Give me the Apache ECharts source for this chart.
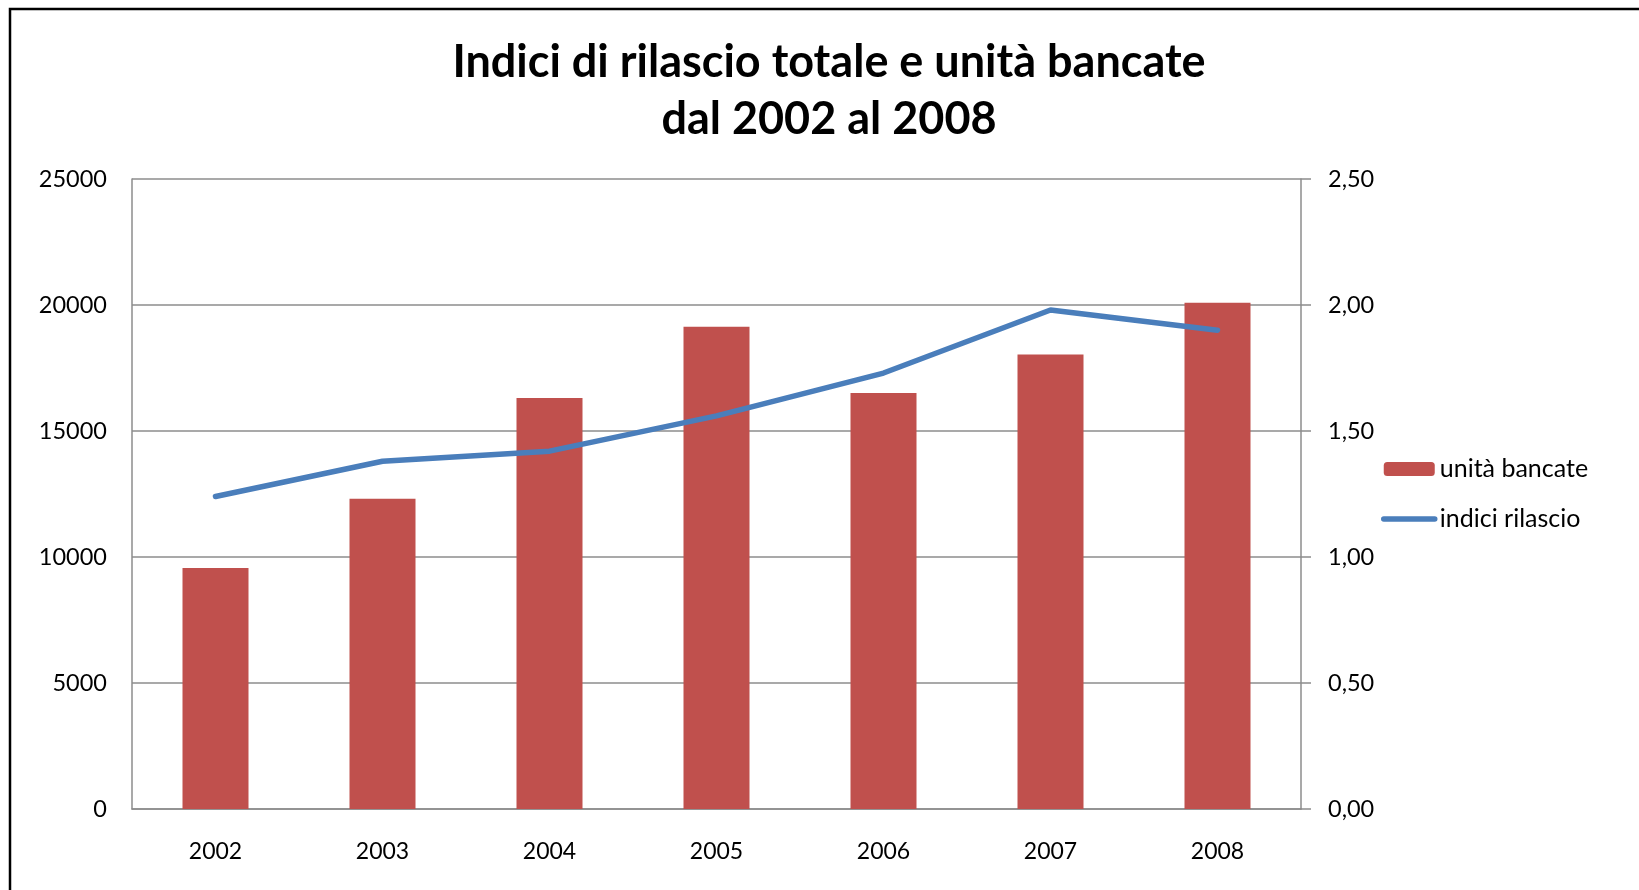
<!DOCTYPE html>
<html>
<head>
<meta charset="utf-8">
<title>Indici di rilascio totale e unità bancate</title>
<script src="https://cdn.jsdelivr.net/npm/echarts@6/dist/echarts.min.js"></script>
<style>
  html, body { margin: 0; padding: 0; background: #fff; overflow: hidden; }
  #chart { width: 1639px; height: 890px; }
</style>
</head>
<body>
<div id="chart"></div>
<script>
// dati
const anni = ['2002', '2003', '2004', '2005', '2006', '2007', '2008'];
const unitaBancate = [9560, 12310, 16310, 19140, 16510, 18040, 20090];
const indiciRilascio = [1.24, 1.38, 1.42, 1.56, 1.73, 1.98, 1.90];
const tickSinistra = [0, 5000, 10000, 15000, 20000, 25000];
const tickDestra = [0, 0.5, 1, 1.5, 2, 2.5];

const font = 'Lato, "Open Sans", sans-serif';
const grigio = '#8c8c8c';
const rosso = '#c0504d';
const blu = '#4a7ebb';

const myChart = echarts.init(document.getElementById('chart'));

const option = {
  backgroundColor: '#fff',
  animation: false,
  textStyle: { fontFamily: font, color: '#000' },
  graphic: [{
    type: 'rect',
    shape: { x: 10, y: 9, width: 1700, height: 1000 },
    style: { fill: 'none', stroke: '#000', lineWidth: 2.5 },
    silent: true
  }],
  title: {
    text: 'Indici di rilascio totale e unità bancate\ndal 2002 al 2008',
    left: 824,
    textAlign: 'center',
    top: 29,
    textStyle: { fontFamily: font, fontSize: 45, fontWeight: 'bold', color: '#000', lineHeight: 57 }
  },
  legend: {
    orient: 'vertical',
    left: 1376,
    top: 449,
    itemWidth: 51,
    itemHeight: 14,
    itemGap: 20,
    textStyle: { fontFamily: font, fontSize: 25, color: '#000', lineHeight: 30 },
    data: [
      { name: 'unità bancate' },
      {
        name: 'indici rilascio',
        itemStyle: { color: 'rgba(0,0,0,0)', borderWidth: 0, opacity: 0 },
        lineStyle: { color: blu, width: 5.5, cap: 'round', opacity: 1 }
      }
    ]
  },
  grid: { left: 132, right: 338, top: 179, bottom: 81 },
  xAxis: {
    type: 'category',
    data: anni,
    axisLine: { lineStyle: { color: grigio, width: 1.5 } },
    axisTick: { show: false },
    axisLabel: { margin: 31, fontSize: 23, color: '#000', fontFamily: font }
  },
  yAxis: [
    {
      type: 'value',
      min: tickSinistra[0],
      max: tickSinistra[tickSinistra.length - 1],
      interval: tickSinistra[1] - tickSinistra[0],
      axisLine: { show: true, lineStyle: { color: grigio, width: 1.5 } },
      axisTick: { show: false },
      splitLine: { lineStyle: { color: grigio, width: 1.5 } },
      axisLabel: { margin: 25, fontSize: 23.5, color: '#000', fontFamily: font, formatter: v => String(v) }
    },
    {
      type: 'value',
      min: tickDestra[0],
      max: tickDestra[tickDestra.length - 1],
      interval: tickDestra[1] - tickDestra[0],
      position: 'right',
      axisLine: { show: true, lineStyle: { color: grigio, width: 1.5 } },
      axisTick: { show: true, length: 10, lineStyle: { color: grigio, width: 1.5 } },
      splitLine: { show: false },
      axisLabel: { margin: 27, fontSize: 23.5, color: '#000', fontFamily: font, formatter: v => v.toFixed(2).replace('.', ',') }
    }
  ],
  series: [
    {
      name: 'unità bancate',
      type: 'bar',
      yAxisIndex: 0,
      barWidth: 66,
      data: unitaBancate,
      itemStyle: { color: rosso }
    },
    {
      name: 'indici rilascio',
      type: 'line',
      yAxisIndex: 1,
      data: indiciRilascio,
      symbol: 'none',
      lineStyle: { color: blu, width: 5.5, cap: 'round' },
      itemStyle: { color: blu }
    }
  ]
};

myChart.setOption(option);
</script>
</body>
</html>
